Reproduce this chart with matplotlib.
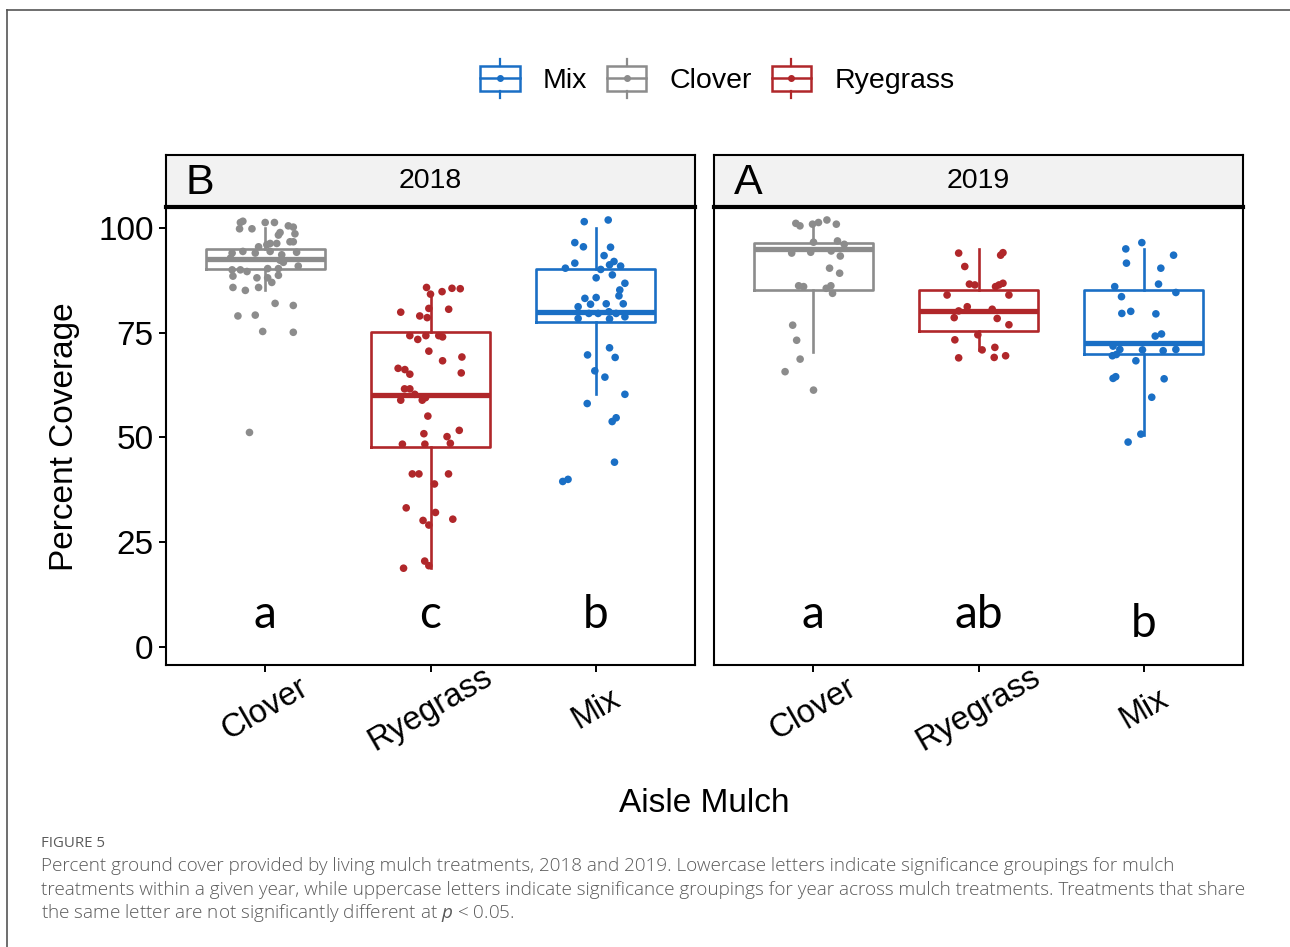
import matplotlib.pyplot as plt
from matplotlib.patches import Rectangle
from matplotlib.lines import Line2D
from matplotlib.legend_handler import HandlerBase

plt.rcParams['font.family'] = ['Liberation Sans', 'DejaVu Sans']
plt.rcParams['mathtext.fontset'] = 'custom'
plt.rcParams['mathtext.it'] = 'Open Sans:italic'
plt.rcParams['mathtext.rm'] = 'Open Sans'

years = ['2018', '2019']
year_groups = ['B', 'A']
mulches = ['Clover', 'Ryegrass', 'Mix']
mulch_groups = {'2018': ['a', 'c', 'b'], '2019': ['a', 'ab', 'b']}
colors = {'Clover': '#8C8C8C', 'Ryegrass': '#B0272A', 'Mix': '#1A6FC5'}

# percent coverage per plot, with the horizontal jitter of each point
clover_2018_pct = [101.3, 101.6, 99.8, 99.8, 101.3, 101.3, 100.5, 100.2, 98.6, 98.9, 98.3, 96.7,
                   96.7, 96.3, 96.3, 95.5, 96.0, 94.0, 94.4, 94.0, 94.4, 93.6, 94.2, 92.8, 92.3,
                   91.8, 90.9, 90.0, 90.0, 89.6, 90.3, 90.3, 88.5, 88.1, 88.1, 88.7, 87.0, 85.8,
                   85.1, 85.8, 82.0, 81.5, 79.0, 79.2, 75.3, 75.1, 51.2]
clover_2018_jit = [-0.15, -0.135, -0.155, -0.08, 0.0, 0.056, 0.14, 0.17, 0.18, 0.09, 0.08, 0.17,
                   0.15, 0.07, 0.03, -0.04, 0.01, -0.2, -0.135, -0.06, 0.03, 0.1, 0.19, -0.21, 0.09,
                   0.11, 0.2, -0.2, -0.15, -0.11, 0.015, 0.08, -0.195, -0.05, 0.015, 0.08, 0.04,
                   -0.195, -0.12, -0.04, 0.06, 0.17, -0.165, -0.06, -0.015, 0.17, -0.095]

rye_2018_pct = [85.8, 84.8, 85.6, 85.5, 84.2, 79.9, 80.8, 79.0, 78.6, 80.6, 74.3, 73.4, 74.3, 74.3,
                74.0, 70.6, 68.3, 69.2, 65.4, 66.5, 66.2, 65.1, 61.6, 61.6, 58.9, 60.3, 58.9, 59.5,
                55.1, 50.9, 50.2, 51.7, 48.4, 48.4, 48.6, 41.3, 41.3, 41.3, 38.9, 33.2, 32.1, 30.5,
                30.2, 29.1, 20.5, 19.4, 18.8]
rye_2018_jit = [-0.024, 0.07, 0.13, 0.18, 0.0, -0.18, -0.01, -0.065, -0.02, 0.11, -0.125, -0.077,
                -0.028, 0.05, 0.073, -0.01, 0.073, 0.19, 0.186, -0.196, -0.155, -0.125, -0.157,
                -0.125, -0.18, -0.095, -0.05, -0.03, -0.016, -0.04, 0.1, 0.174, -0.17, -0.034, 0.12,
                -0.11, -0.07, 0.109, 0.024, -0.147, 0.03, 0.135, -0.045, -0.01, -0.035, -0.01, -0.163]

mix_2018_pct = [101.5, 101.9, 96.5, 95.5, 95.4, 93.4, 91.6, 90.4, 90.1, 91.2, 92.0, 90.9, 88.8,
                88.1, 86.8, 85.2, 83.8, 81.9, 83.2, 83.4, 81.8, 81.9, 81.2, 79.6, 79.6, 80.0, 79.6,
                78.4, 78.3, 78.8, 69.7, 71.4, 69.1, 65.9, 64.4, 60.3, 58.1, 54.7, 53.8, 44.1, 39.5,
                40.0]
mix_2018_jit = [-0.07, 0.075, -0.127, -0.075, 0.089, 0.05, -0.127, -0.184, 0.03, 0.083, 0.11, 0.15,
                0.1, 0.002, 0.176, 0.145, 0.14, 0.166, -0.066, 0.002, -0.032, 0.063, -0.107, -0.042,
                0.014, 0.079, 0.123, -0.107, 0.083, 0.176, -0.05, 0.083, 0.117, -0.006, 0.055,
                0.176, -0.052, 0.123, 0.099, 0.113, -0.2, -0.168]

clover_2019_pct = [101.1, 100.5, 100.9, 101.3, 101.9, 100.9, 96.6, 96.9, 96.1, 94.0, 94.2, 94.5,
                   93.3, 90.4, 89.2, 86.2, 86.0, 85.6, 86.2, 84.4, 76.8, 73.2, 68.7, 65.7, 61.3]
clover_2019_jit = [-0.105, -0.08, -0.004, 0.032, 0.083, 0.14, 0.002, 0.147, 0.188, -0.13, -0.015,
                   0.109, 0.164, 0.099, 0.16, -0.088, -0.058, 0.079, 0.107, 0.117, -0.124, -0.1,
                   -0.079, -0.17, 0.002]

rye_2019_pct = [94.0, 93.5, 94.1, 90.8, 86.6, 86.4, 86.0, 86.8, 86.4, 84.0, 84.0, 81.2, 80.6, 80.2,
                78.6, 78.4, 76.9, 74.5, 73.3, 70.9, 71.5, 69.0, 69.1, 69.5]
rye_2019_jit = [-0.12, 0.134, 0.148, -0.083, -0.055, -0.022, 0.103, 0.148, 0.124, -0.19, 0.184,
                -0.068, 0.083, -0.12, -0.147, 0.113, 0.184, -0.004, -0.143, 0.022, 0.099, -0.12,
                0.095, 0.164]

mix_2019_pct = [96.5, 95.0, 93.5, 91.6, 90.4, 86.6, 86.0, 84.6, 83.6, 79.6, 80.1, 79.5, 74.2, 74.7,
                71.8, 71.0, 70.9, 70.7, 71.0, 69.5, 69.8, 68.3, 64.1, 64.5, 64.0, 59.6, 50.8, 48.9]
mix_2019_jit = [-0.012, -0.109, 0.18, -0.105, 0.103, 0.089, -0.176, 0.194, -0.135, -0.133, -0.079,
                0.073, 0.069, 0.107, -0.186, -0.145, -0.008, 0.117, 0.194, -0.19, -0.166, -0.048,
                -0.186, -0.17, 0.123, 0.048, -0.018, -0.095]

# box statistics: lower whisker, Q1, median, Q3, upper whisker
box_stats = {
    ('2018', 'Clover'): [85.2, 90.1, 92.5, 95.0, 100.0],
    ('2018', 'Ryegrass'): [18.8, 47.8, 60.1, 75.1, 84.4],
    ('2018', 'Mix'): [60.3, 77.6, 80.0, 90.2, 99.9],
    ('2019', 'Clover'): [70.3, 85.2, 95.0, 96.3, 100.9],
    ('2019', 'Ryegrass'): [70.9, 75.3, 80.2, 85.2, 94.9],
    ('2019', 'Mix'): [50.6, 69.9, 72.6, 85.2, 94.9],
}

points = {
    ('2018', 'Clover'): (clover_2018_pct, clover_2018_jit),
    ('2018', 'Ryegrass'): (rye_2018_pct, rye_2018_jit),
    ('2018', 'Mix'): (mix_2018_pct, mix_2018_jit),
    ('2019', 'Clover'): (clover_2019_pct, clover_2019_jit),
    ('2019', 'Ryegrass'): (rye_2019_pct, rye_2019_jit),
    ('2019', 'Mix'): (mix_2019_pct, mix_2019_jit),
}

W, H = 1290, 947
fig = plt.figure(figsize=(W / 100, H / 100), dpi=100)

# thin frame along the top and left edge
fig.add_artist(Line2D([7 / W, 1], [1 - 10 / H] * 2, transform=fig.transFigure, color='#555555', lw=1.2))
fig.add_artist(Line2D([7 / W] * 2, [0, 1 - 10 / H], transform=fig.transFigure, color='#555555', lw=1.2))

panel_left = [166, 714]
panel_w = 529
ax_top, ax_bot = 207, 665
strip_top = 155

for i, year in enumerate(years):
    x0 = panel_left[i]
    ax = fig.add_axes([x0 / W, 1 - ax_bot / H, panel_w / W, (ax_bot - ax_top) / H])
    for j, m in enumerate(mulches):
        lo, q1, med, q3, hi = box_stats[(year, m)]
        c = colors[m]
        ax.bxp([{'whislo': lo, 'q1': q1, 'med': med, 'q3': q3, 'whishi': hi, 'fliers': []}],
               positions=[j + 1], widths=0.72, showcaps=False, manage_ticks=False,
               boxprops=dict(color=c, lw=1.9), whiskerprops=dict(color=c, lw=1.9),
               medianprops=dict(color=c, lw=3.8, solid_capstyle='butt'))
        vals, jit = points[(year, m)]
        ax.scatter([j + 1 + d for d in jit], vals, s=30, color=c, edgecolors='none', zorder=3)
        # significance letters within the year
        ly = 2.4 if (year == '2019' and m == 'Mix') else 4.5
        ax.text(j + 1, ly, mulch_groups[year][j], ha='center', va='baseline',
                fontsize=33, family=['Lato', 'DejaVu Sans'])

    ax.set_xlim(0.4, 3.6)
    ax.set_ylim(-4.3, 105)
    ax.set_xticks(range(1, 4))
    ax.set_xticklabels(mulches, rotation=30, ha='center', va='center')
    ax.tick_params(axis='x', length=5, width=1.4, pad=27, labelsize=23.5, colors='black')
    ax.set_yticks([0, 25, 50, 75, 100])
    if i == 0:
        ax.tick_params(axis='y', length=5, width=1.4, pad=4, labelsize=24)
    else:
        ax.tick_params(axis='y', left=False, labelleft=False)
    for s in ax.spines.values():
        s.set_linewidth(1.5)

    # facet strip
    sx = fig.add_axes([x0 / W, 1 - ax_top / H, panel_w / W, (ax_top - strip_top) / H])
    sx.set_facecolor('#F2F2F2')
    sx.set_xticks([])
    sx.set_yticks([])
    for s in sx.spines.values():
        s.set_linewidth(1.5)
    sx.spines['bottom'].set_linewidth(3)
    sx.text(0.5, 0.5, year, ha='center', va='center', fontsize=20.5, transform=sx.transAxes)
    sx.text(34 / panel_w, 0.47, year_groups[i], ha='center', va='center', fontsize=31,
            transform=sx.transAxes)

fig.text(65 / W, 1 - 437 / H, 'Percent Coverage', rotation=90, ha='center', va='center', fontsize=24)
fig.text(704 / W, 1 - 803 / H, 'Aisle Mulch', ha='center', va='center', fontsize=24)


class BoxGlyph(HandlerBase):
    def create_artists(self, legend, orig_handle, xdescent, ydescent, width, height, fontsize, trans):
        c = orig_handle.get_color()
        x0, y0 = -xdescent, -ydescent
        xm, ym = x0 + width / 2, y0 + height / 2
        ext = height * 0.27
        return [
            Line2D([xm, xm], [y0 - ext, y0], color=c, lw=1.6, transform=trans),
            Line2D([xm, xm], [y0 + height, y0 + height + ext], color=c, lw=1.6, transform=trans),
            Rectangle((x0, y0), width, height, fill=False, ec=c, lw=1.8, transform=trans),
            Line2D([x0, x0 + width], [ym, ym], color=c, lw=1.8, transform=trans),
            Line2D([xm], [ym], marker='o', ms=4, color=c, transform=trans),
        ]


legend_order = ['Mix', 'Clover', 'Ryegrass']
handles = [Line2D([], [], color=colors[m]) for m in legend_order]
fig.legend(handles, legend_order, loc='center', bbox_to_anchor=(717 / W, 1 - 80 / H), ncol=3,
           frameon=False, fontsize=20.5, handlelength=1.4, handleheight=1.0, handletextpad=0.8,
           columnspacing=0.7, handler_map={Line2D: BoxGlyph()})

# caption
cap = dict(family=['Open Sans', 'DejaVu Sans'], color='#5A5A5A', va='center', ha='left')
fig.text(41 / W, 1 - 843 / H, 'FIGURE 5', fontsize=10.8, **cap)
caption_lines = [
    'Percent ground cover provided by living mulch treatments, 2018 and 2019. Lowercase letters '
    'indicate significance groupings for mulch',
    'treatments within a given year, while uppercase letters indicate significance groupings for '
    'year across mulch treatments. Treatments that share',
    'the same letter are not significantly different at $p$ < 0.05.',
]
for k, line in enumerate(caption_lines):
    fig.text(41 / W, 1 - (866 + 23.5 * k) / H, line, fontsize=13.6, fontweight='light', **cap)

fig.savefig('out.png', dpi=100)
